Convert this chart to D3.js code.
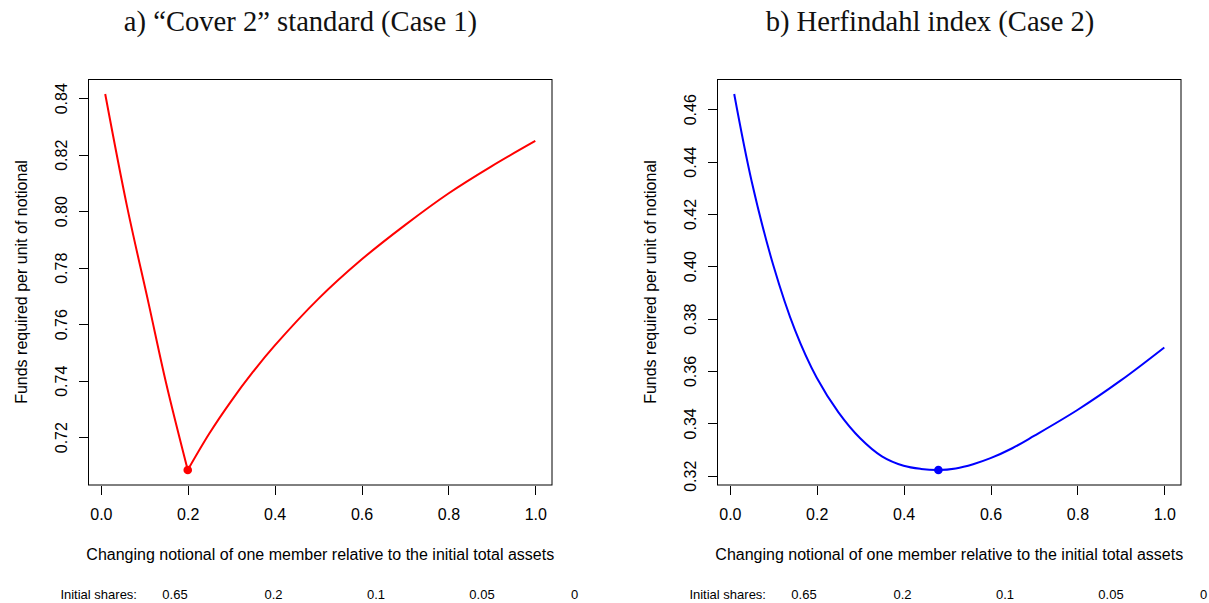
<!DOCTYPE html>
<html>
<head>
<meta charset="utf-8">
<script src="https://cdn.jsdelivr.net/npm/d3@7"></script>
<style>
  html, body { margin: 0; padding: 0; background: #fff; }
  svg { display: block; }
</style>
</head>
<body>
<svg id="chart" width="1209" height="603"></svg>
<script>
// ---------------- DATA ----------------
// Panel a) "Cover 2" standard (Case 1)
const xA = [0.01, 0.06, 0.11, 0.15, 0.2, 0.25, 0.3, 0.35, 0.4, 0.5, 0.6, 0.7, 0.8, 0.9, 1.0];
const yA = [0.8415, 0.8019, 0.7673, 0.7393, 0.7084, 0.7214, 0.7328, 0.7431, 0.7524, 0.7689, 0.7829, 0.7951, 0.8063, 0.8160, 0.8249];
const minA = { x: 0.2, y: 0.7084 };

// Panel b) Herfindahl index (Case 2)
const xB = [0.01, 0.05, 0.1, 0.15, 0.2, 0.25, 0.3, 0.35, 0.4, 0.44, 0.48, 0.52, 0.56, 0.6, 0.65, 0.7, 0.8, 0.9, 1.0];
const yB = [0.4658, 0.4326, 0.4004, 0.3756, 0.3574, 0.3442, 0.3343, 0.3274, 0.3238, 0.3226, 0.3222, 0.3228, 0.3244, 0.3267, 0.3305, 0.3352, 0.3451, 0.3564, 0.3690];
const minB = { x: 0.48, y: 0.3222 };

const xTicks = [0, 0.2, 0.4, 0.6, 0.8, 1.0];
const yTicksA = [0.72, 0.74, 0.76, 0.78, 0.80, 0.82, 0.84];
const yTicksB = [0.32, 0.34, 0.36, 0.38, 0.40, 0.42, 0.44, 0.46];

const titles = ["a) \u201CCover 2\u201D standard (Case 1)", "b) Herfindahl index (Case 2)"];
const xTitle = "Changing notional of one member relative to the initial total assets";
const yTitle = "Funds required per unit of notional";
const sharesLabel = "Initial shares:";
const shares = ["0.65", "0.2", "0.1", "0.05", "0"];

// ---------------- LAYOUT ----------------
const plotW = 464.5, plotH = 406, plotTop = 79;
const panelLeft = [88, 717];
const titleCenter = [300.5, 930];
const shareOffsets = [10.7, 87, 185.5, 288, 394, 486.5]; // centers relative to plot left
const sans = "'Liberation Sans', Arial, Helvetica, sans-serif";
const serif = "'Liberation Serif', 'Times New Roman', serif";

const svg = d3.select("#chart");

const panels = [
  { x: xA, y: yA, min: minA, yTicks: yTicksA, color: "#ff0000", split: 0.2 },
  { x: xB, y: yB, min: minB, yTicks: yTicksB, color: "#0000ff", split: null }
];

function rExpand(ext) {
  const pad = 0.04 * (ext[1] - ext[0]);
  return [ext[0] - pad, ext[1] + pad];
}

panels.forEach((p, i) => {
  const L = panelLeft[i];
  const g = svg.append("g");

  const xs = d3.scaleLinear().domain(rExpand(d3.extent(p.x))).range([L, L + plotW]);
  const ys = d3.scaleLinear().domain(rExpand(d3.extent(p.y))).range([plotTop + plotH, plotTop]);

  // Title
  g.append("text")
    .attr("x", titleCenter[i]).attr("y", 31)
    .attr("text-anchor", "middle")
    .attr("font-family", serif).attr("font-size", 28.6)
    .attr("fill", "#111")
    .text(titles[i]);

  // Curve
  const pts = p.x.map((v, k) => [v, p.y[k]]);
  const line = d3.line().x(d => xs(d[0])).y(d => ys(d[1])).curve(d3.curveCatmullRom.alpha(0.5));
  const segs = p.split === null ? [pts] :
    [pts.filter(d => d[0] <= p.split), pts.filter(d => d[0] >= p.split)];
  segs.forEach(s => {
    g.append("path").datum(s)
      .attr("d", line)
      .attr("fill", "none")
      .attr("stroke", p.color)
      .attr("stroke-width", 2)
      .attr("stroke-linejoin", "round");
  });

  // Min point
  g.append("circle")
    .attr("cx", xs(p.min.x)).attr("cy", ys(p.min.y))
    .attr("r", 4.3).attr("fill", p.color);

  // Box
  g.append("rect")
    .attr("x", L + 0.5).attr("y", plotTop + 0.5)
    .attr("width", plotW - 1).attr("height", plotH - 0.5)
    .attr("fill", "none").attr("stroke", "#000").attr("stroke-width", 1);

  // X axis
  const xAxis = d3.axisBottom(xs).tickValues(xTicks).tickSize(9).tickFormat(d3.format(".1f"));
  const gx = g.append("g").attr("transform", `translate(0,${plotTop + plotH + 0.5})`).call(xAxis);
  gx.select(".domain").remove();
  gx.selectAll(".tick line").attr("stroke", "#000").attr("shape-rendering", "crispEdges");
  gx.selectAll(".tick text")
    .attr("y", 34.5).attr("dy", null)
    .attr("font-family", sans).attr("font-size", 16).attr("fill", "#000");

  // Y axis
  const yAxis = d3.axisLeft(ys).tickValues(p.yTicks).tickSize(9.5).tickFormat(d3.format(".2f"));
  const gy = g.append("g").attr("transform", `translate(${L + 0.5},0)`).call(yAxis);
  gy.select(".domain").remove();
  gy.selectAll(".tick line").attr("stroke", "#000").attr("shape-rendering", "crispEdges");
  gy.selectAll(".tick text")
    .attr("x", null).attr("dy", null)
    .attr("transform", "translate(-22,0) rotate(-90)")
    .attr("text-anchor", "middle")
    .attr("font-family", sans).attr("font-size", 16).attr("fill", "#000");

  // Axis titles
  g.append("text")
    .attr("x", L + plotW / 2).attr("y", 560)
    .attr("text-anchor", "middle")
    .attr("font-family", sans).attr("font-size", 16).attr("fill", "#000")
    .text(xTitle);
  g.append("text")
    .attr("transform", `translate(${L - 61.5},${plotTop + plotH / 2}) rotate(-90)`)
    .attr("text-anchor", "middle")
    .attr("font-family", sans).attr("font-size", 16).attr("fill", "#000")
    .text(yTitle);

  // Initial shares row
  const labels = [sharesLabel].concat(shares);
  labels.forEach((t, k) => {
    g.append("text")
      .attr("x", L + shareOffsets[k]).attr("y", 599)
      .attr("text-anchor", "middle")
      .attr("font-family", sans).attr("font-size", 13).attr("fill", "#000")
      .text(t);
  });
});
</script>
</body>
</html>
